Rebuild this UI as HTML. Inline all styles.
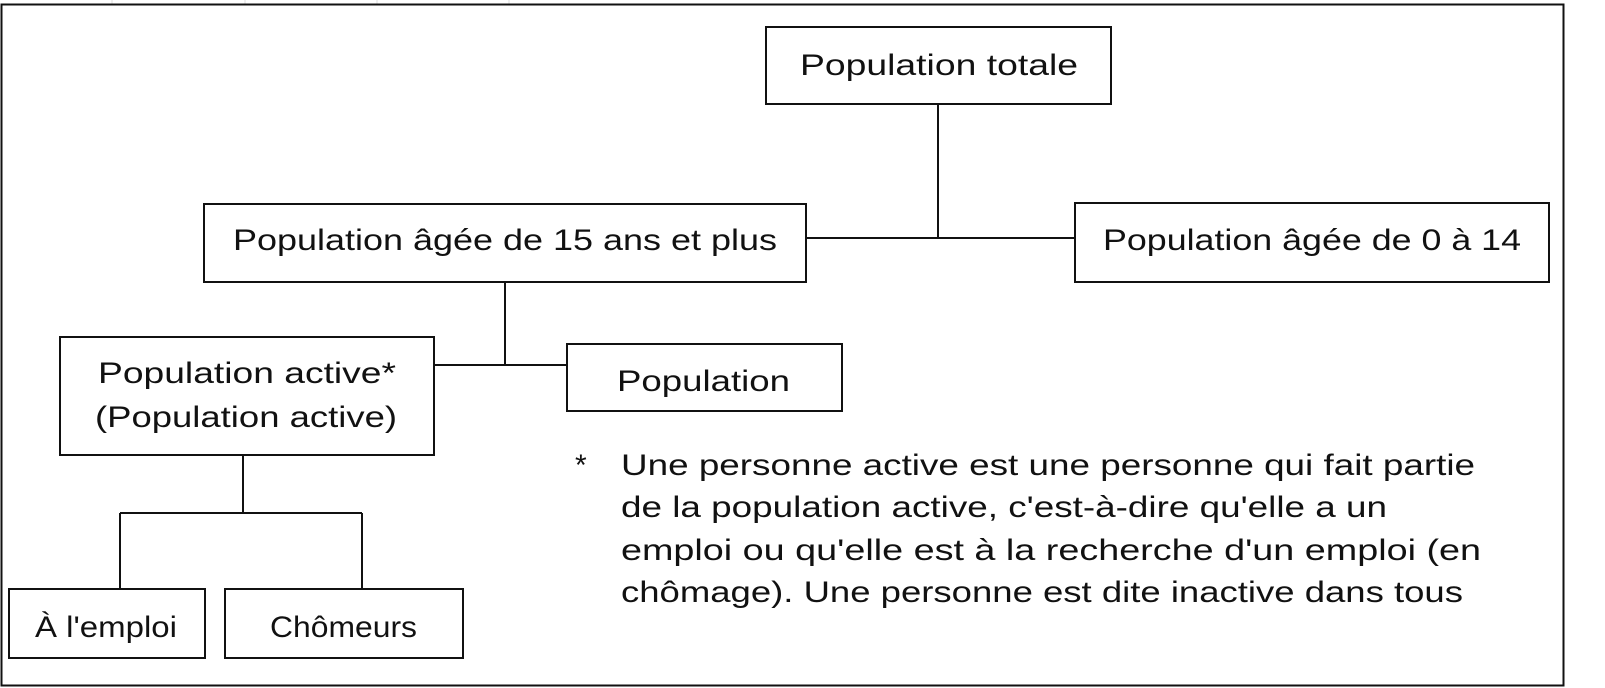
<!DOCTYPE html>
<html><head><meta charset="utf-8"><style>
html,body{margin:0;padding:0;background:#fff;}
svg{display:block;}
text{font-family:"Liberation Sans",sans-serif;font-size:30px;fill:#111;}
</style></head><body>
<svg width="1605" height="688" viewBox="0 0 1605 688" xmlns="http://www.w3.org/2000/svg">
<g stroke="#ddd" stroke-width="1">
<line x1="112" y1="0" x2="112" y2="4"/><line x1="245" y1="0" x2="245" y2="4"/><line x1="377" y1="0" x2="377" y2="4"/><line x1="509" y1="0" x2="509" y2="4"/>
</g>
<rect x="1.5" y="4.5" width="1562" height="681" fill="none" stroke="#111" stroke-width="2"/>
<g fill="none" stroke="#111" stroke-width="2">
<rect x="766" y="27" width="345" height="77"/>
<rect x="204" y="204" width="602" height="78"/>
<rect x="1075" y="203" width="474" height="79"/>
<rect x="60" y="337" width="374" height="118"/>
<rect x="567" y="344" width="275" height="67"/>
<rect x="9" y="589" width="196" height="69"/>
<rect x="225" y="589" width="238" height="69"/>
<path d="M938 104V238M806 238H1075M505 282V365M434 365H567M243 455V513M120 513H362M120 513V589M362 513V589"/>
</g>
<text x="800" y="75" textLength="278" lengthAdjust="spacingAndGlyphs">Population totale</text>
<text x="233" y="250" textLength="544" lengthAdjust="spacingAndGlyphs">Population âgée de 15 ans et plus</text>
<text x="1103" y="250" textLength="418" lengthAdjust="spacingAndGlyphs">Population âgée de 0 à 14</text>
<text x="98" y="383" textLength="298" lengthAdjust="spacingAndGlyphs">Population active*</text>
<text x="95" y="427" textLength="302" lengthAdjust="spacingAndGlyphs">(Population active)</text>
<text x="617" y="391" textLength="173" lengthAdjust="spacingAndGlyphs">Population</text>
<text x="35" y="637" textLength="142" lengthAdjust="spacingAndGlyphs">À l'emploi</text>
<text x="270" y="637" textLength="147" lengthAdjust="spacingAndGlyphs">Chômeurs</text>
<text x="575" y="475">*</text>
<text x="621" y="475" textLength="854" lengthAdjust="spacingAndGlyphs">Une personne active est une personne qui fait partie</text>
<text x="621" y="517" textLength="766" lengthAdjust="spacingAndGlyphs">de la population active, c'est-à-dire qu'elle a un</text>
<text x="621" y="560" textLength="860" lengthAdjust="spacingAndGlyphs">emploi ou qu'elle est à la recherche d'un emploi (en</text>
<text x="621" y="602" textLength="842" lengthAdjust="spacingAndGlyphs">chômage). Une personne est dite inactive dans tous</text>
</svg>
</body></html>
